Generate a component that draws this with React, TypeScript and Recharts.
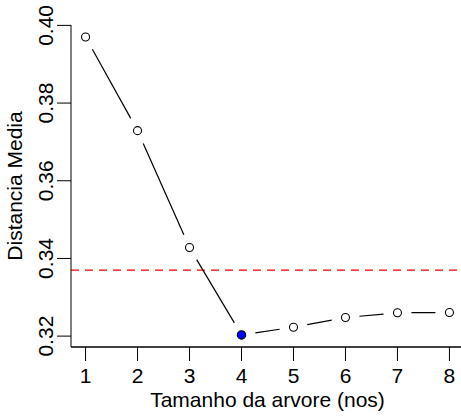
import React from "react";
import { LineChart, Line, XAxis, YAxis, ReferenceLine } from "recharts";

const treeSizes = [1, 2, 3, 4, 5, 6, 7, 8];
const meanDistance = [0.397, 0.3729, 0.3428, 0.3203, 0.3223, 0.3248, 0.326, 0.3261];
const bestIndex = 3;
const cutoff = 0.337;
const xTicks = [1, 2, 3, 4, 5, 6, 7, 8];
const yTicks = [0.32, 0.34, 0.36, 0.38, 0.4];

const data = treeSizes.map((x, i) => ({ x, y: meanDistance[i] }));

const FONT = "'Liberation Sans', Arial, Helvetica, sans-serif";
const GAP = 14;

// type="b" style: open circles with line segments that stop short of each point
function PointDot(props: any) {
  const { cx, cy, index, points } = props;
  let seg = null;
  if (points && index < points.length - 1) {
    const nx = points[index + 1].x;
    const ny = points[index + 1].y;
    const dx = nx - cx;
    const dy = ny - cy;
    const len = Math.sqrt(dx * dx + dy * dy);
    if (len > 2 * GAP) {
      const ux = dx / len;
      const uy = dy / len;
      seg = (
        <line
          x1={cx + ux * GAP}
          y1={cy + uy * GAP}
          x2={nx - ux * GAP}
          y2={ny - uy * GAP}
          stroke="#000"
          strokeWidth={1.2}
        />
      );
    }
  }
  const best = index === bestIndex;
  return (
    <g key={`pt-${index}`}>
      {seg}
      <circle
        cx={cx}
        cy={cy}
        r={best ? 4.2 : 4}
        fill={best ? "#0000ff" : "#fff"}
        stroke="#000"
        strokeWidth={1.1}
      />
    </g>
  );
}

function YTick(props: any) {
  const { x, y, payload } = props;
  return (
    <text
      x={x - 4}
      y={y}
      transform={`rotate(-90, ${x - 4}, ${y})`}
      textAnchor="middle"
      fontSize={21}
      fontFamily={FONT}
      fill="#000"
    >
      {payload.value.toFixed(2)}
    </text>
  );
}

function XTick(props: any) {
  const { x, y, payload } = props;
  return (
    <text x={x} y={y + 22} textAnchor="middle" fontSize={21} fontFamily={FONT} fill="#000">
      {payload.value}
    </text>
  );
}

function XTitle(props: any) {
  const vb = props.viewBox || { x: 71, y: 347, width: 393, height: 70 };
  return (
    <text x={vb.x + vb.width / 2} y={vb.y + 60} textAnchor="middle" fontSize={21} fontFamily={FONT} fill="#000">
      Tamanho da arvore (nos)
    </text>
  );
}

function YTitle(props: any) {
  const vb = props.viewBox || { x: 0, y: 25, width: 71, height: 322 };
  const cx = vb.x + 22;
  const cy = vb.y + vb.height / 2;
  return (
    <text
      x={cx}
      y={cy}
      transform={`rotate(-90, ${cx}, ${cy})`}
      textAnchor="middle"
      fontSize={21}
      fontFamily={FONT}
      fill="#000"
    >
      Distancia Media
    </text>
  );
}

export default function App() {
  return (
    <div
      style={{
        position: "absolute",
        left: 0,
        top: 0,
        width: 461,
        height: 417,
        overflow: "hidden",
        background: "#fff",
      }}
    >
      <LineChart width={480} height={417} data={data} margin={{ top: 25, right: 16, bottom: 0, left: 0 }}>
        <XAxis
          dataKey="x"
          type="number"
          domain={[0.72, 8.28]}
          ticks={xTicks}
          height={70}
          tickSize={14}
          tickMargin={0}
          stroke="#000"
          axisLine={{ stroke: "#000", strokeWidth: 1.3 }}
          tickLine={{ stroke: "#000" }}
          tick={<XTick />}
          label={<XTitle />}
          allowDataOverflow
        />
        <XAxis
          xAxisId="top"
          dataKey="x"
          type="number"
          orientation="top"
          domain={[0.72, 8.28]}
          height={0}
          tick={false}
          tickLine={false}
          axisLine={{ stroke: "#000", strokeWidth: 1.3 }}
        />
        <YAxis
          type="number"
          domain={[0.3172, 0.4001]}
          ticks={yTicks}
          width={71}
          tickSize={14}
          tickMargin={0}
          axisLine={{ stroke: "#000", strokeWidth: 1 }}
          tickLine={{ stroke: "#000" }}
          tick={<YTick />}
          label={<YTitle />}
          allowDataOverflow
        />
        <ReferenceLine y={cutoff} stroke="#ff0000" strokeDasharray="8 6" strokeWidth={1.2} />
        <Line
          dataKey="y"
          stroke="#000"
          strokeWidth={0}
          strokeOpacity={0}
          isAnimationActive={false}
          dot={(p: any) => <PointDot {...p} />}
          activeDot={false}
        />
      </LineChart>
    </div>
  );
}
